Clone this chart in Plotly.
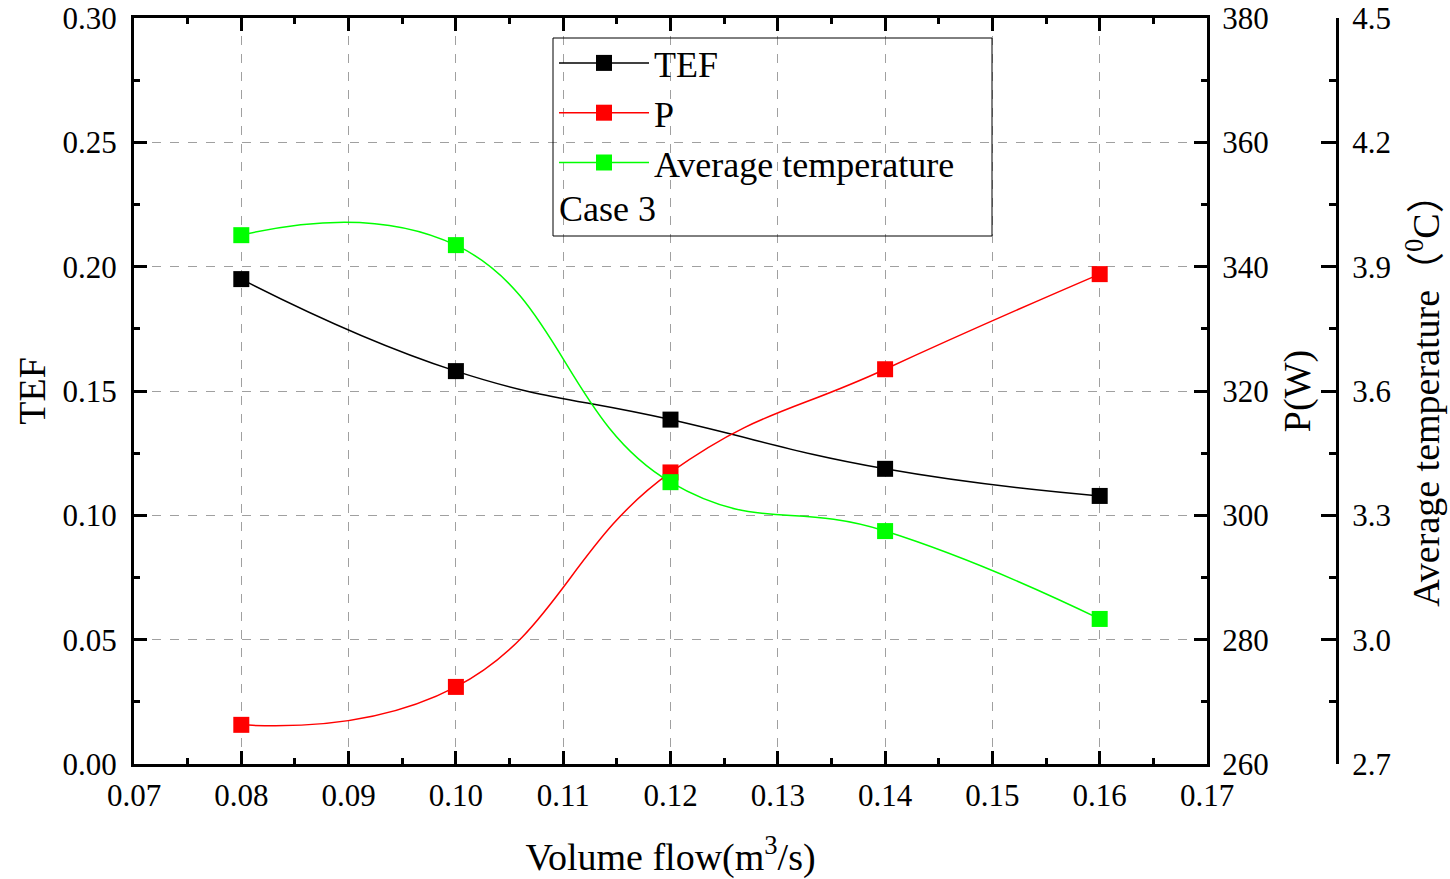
import plotly.graph_objects as go

flow = [0.08, 0.10, 0.12, 0.14, 0.16]
tef = [0.195, 0.158, 0.1385, 0.1187, 0.1078]
power = [266.3, 272.4, 306.9, 323.5, 338.8]
avg_temp = [3.976, 3.952, 3.380, 3.262, 3.050]

FONT = "Liberation Serif, Times New Roman, Noto Sans CJK SC, serif"
TICK = 31
TITLE = 38
SMOOTH = 1.3

fig = go.Figure()
fig.add_trace(go.Scatter(x=flow, y=tef, name="TEF", mode="lines+markers",
                         line=dict(color="black", width=1.5, shape="spline", smoothing=SMOOTH),
                         marker=dict(symbol="square", size=16, color="black"), yaxis="y"))
fig.add_trace(go.Scatter(x=flow, y=power, name="P", mode="lines+markers",
                         line=dict(color="#FF0000", width=1.5, shape="spline", smoothing=SMOOTH),
                         marker=dict(symbol="square", size=16, color="#FF0000"), yaxis="y2"))
fig.add_trace(go.Scatter(x=flow, y=avg_temp, name="Average temperature", mode="lines+markers",
                         line=dict(color="#00FF00", width=1.5, shape="spline", smoothing=SMOOTH),
                         marker=dict(symbol="square", size=16, color="#00FF00"), yaxis="y3"))

W, H = 1450, 879
L, R, T, B = 134, 113, 18, 115
pw = W - L - R
x_end = (1207 - L) / pw

def px(xp):
    return (xp - L) / pw

def py(yp):
    return (H - B - yp) / (H - T - B)

common_tick = dict(ticks="inside", tickwidth=2.5, tickcolor="black", linecolor="black",
                   linewidth=3, showline=True, automargin=False,
                   tickfont=dict(family=FONT, size=TICK, color="black"))

fig.update_layout(
    width=W, height=H,
    margin=dict(l=L, r=R, t=T, b=B, autoexpand=False),
    paper_bgcolor="white", plot_bgcolor="white",
    font=dict(family=FONT, color="black"),
    showlegend=True,
    xaxis=dict(domain=[0, x_end], range=[0.07, 0.17], dtick=0.01, tick0=0.07, tickformat=".2f",
               ticklen=13, mirror="ticks", showgrid=True, gridcolor="#a0a0a0", griddash="dash",
               gridwidth=1, zeroline=False, ticklabelstandoff=2,
               minor=dict(dtick=0.005, ticks="inside", ticklen=6, tickcolor="black", tickwidth=2.5, showgrid=False),
               title=dict(text="Volume flow(m<sup>3</sup>/s)", font=dict(family=FONT, size=TITLE), standoff=34),
               **common_tick),
    yaxis=dict(range=[0, 0.30], dtick=0.05, tickformat=".2f", ticklen=13, showgrid=True,
               gridcolor="#a0a0a0", griddash="dash", gridwidth=1, zeroline=False, ticklabelstandoff=8,
               minor=dict(dtick=0.025, ticks="inside", ticklen=6, tickcolor="black", tickwidth=2.5, showgrid=False),
               title=dict(text="TEF", font=dict(family=FONT, size=TITLE), standoff=6),
               **common_tick),
    yaxis2=dict(range=[260, 380], dtick=20, overlaying="y", side="right", anchor="x",
                ticklen=13, showgrid=False, zeroline=False, ticklabelstandoff=6,
                minor=dict(dtick=10, ticks="inside", ticklen=6, tickcolor="black", tickwidth=2.5),
                title=dict(text="P(W)", font=dict(family=FONT, size=TITLE), standoff=16),
                **common_tick),
    yaxis3=dict(range=[2.7, 4.5], dtick=0.3, tick0=2.7, tickformat=".1f", overlaying="y", side="right",
                anchor="free", position=1.0, ticklen=15, showgrid=False, zeroline=False, ticklabelstandoff=7,
                minor=dict(dtick=0.15, ticks="inside", ticklen=7, tickcolor="black", tickwidth=2.5),
                title=dict(text="Average temperature（<sup>0</sup>C）", font=dict(family=FONT, size=38), standoff=22),
                **common_tick),
    legend=dict(x=px(554), y=py(33), xanchor="left", yanchor="top", bgcolor="rgba(0,0,0,0)",
                borderwidth=0, font=dict(family=FONT, size=36), itemwidth=90, tracegroupgap=0),
    shapes=[dict(type="rect", xref="paper", yref="paper", x0=px(553), x1=px(992), y0=py(236), y1=py(38),
                 line=dict(color="black", width=1), fillcolor="rgba(0,0,0,0)", layer="above")],
    annotations=[dict(text="Case 3", xref="paper", yref="paper", x=px(557), y=py(209),
                      xanchor="left", yanchor="middle", showarrow=False,
                      font=dict(family=FONT, size=36, color="black"))],
)

fig.write_html("out.html")
